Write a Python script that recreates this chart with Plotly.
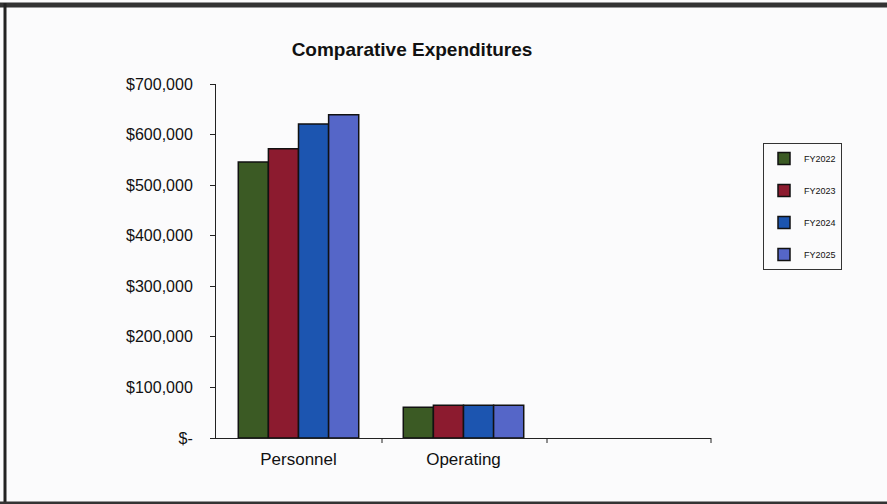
import plotly.graph_objects as go

categories = ["Personnel", "Operating", " "]
series_names = ["FY2022", "FY2023", "FY2024", "FY2025"]
fy2022 = [546000, 61000, None]
fy2023 = [572000, 65000, None]
fy2024 = [621000, 65000, None]
fy2025 = [639000, 65000, None]
colors = ["#3b5a24", "#8c1b2f", "#1c55b0", "#5566c8"]
tick_vals = [0, 100000, 200000, 300000, 400000, 500000, 600000, 700000]
tick_text = ["$-", "$100,000", "$200,000", "$300,000", "$400,000", "$500,000", "$600,000", "$700,000"]

W, H = 887, 504
L, R, T, B = 216, 176, 84, 66
pw, ph = W - L - R, H - T - B

def px(x):
    return (x - L) / pw

def py(y):
    return (H - B - y) / ph

fig = go.Figure()
for name, vals, col in zip(series_names, [fy2022, fy2023, fy2024, fy2025], colors):
    fig.add_trace(go.Bar(
        x=categories, y=vals, name=name, legendgroup=name,
        marker=dict(color=col, line=dict(color="#111111", width=1.5)),
    ))

fig.update_layout(
    width=W, height=H,
    margin=dict(l=L, r=R, t=T, b=B),
    paper_bgcolor="#fbfbfc", plot_bgcolor="#fbfbfc",
    barmode="group", bargap=0.27, bargroupgap=0,
    font=dict(family="Liberation Sans, Arial, sans-serif", color="#111111"),
    title=dict(text="<b>Comparative Expenditures</b>", x=412 / W, xanchor="center",
               y=1 - 49 / H, yanchor="middle", font=dict(size=19, color="#111111")),
    showlegend=True,
    legend=dict(x=px(763), y=py(143), xanchor="left", yanchor="top",
                bordercolor="#333333", borderwidth=1, bgcolor="rgba(0,0,0,0)",
                font=dict(size=9), tracegroupgap=13, itemwidth=30),
    xaxis=dict(showgrid=False, showline=True, linecolor="#222222", linewidth=1,
               ticks="", tickfont=dict(size=17), ticklabelstandoff=6, fixedrange=True),
    yaxis=dict(range=[0, 700000], tickvals=tick_vals, ticktext=tick_text,
               showgrid=False, showline=True, linecolor="#222222", linewidth=1,
               ticks="outside", ticklen=5, tickcolor="#222222", tickfont=dict(size=16),
               ticklabelstandoff=14, zeroline=False, fixedrange=True),
    shapes=[
        dict(type="line", xref="paper", yref="paper", x0=px(382), x1=px(382),
             y0=0, y1=py(443), line=dict(color="#222222", width=1)),
        dict(type="line", xref="paper", yref="paper", x0=px(547), x1=px(547),
             y0=0, y1=py(443), line=dict(color="#222222", width=1)),
        dict(type="line", xref="paper", yref="paper", x0=px(711), x1=px(711),
             y0=0, y1=py(443), line=dict(color="#222222", width=1)),
        dict(type="line", xref="paper", yref="paper", x0=px(0), x1=px(887),
             y0=py(5), y1=py(5), line=dict(color="#333333", width=5)),
        dict(type="line", xref="paper", yref="paper", x0=px(5), x1=px(5),
             y0=py(3), y1=py(504), line=dict(color="#222222", width=3)),
        dict(type="line", xref="paper", yref="paper", x0=px(0), x1=px(887),
             y0=py(503), y1=py(503), line=dict(color="#333333", width=3)),
    ],
)

fig.write_html("out.html", config={"displayModeBar": False},
               post_script="document.body.style.margin='0';document.body.style.padding='0';")
